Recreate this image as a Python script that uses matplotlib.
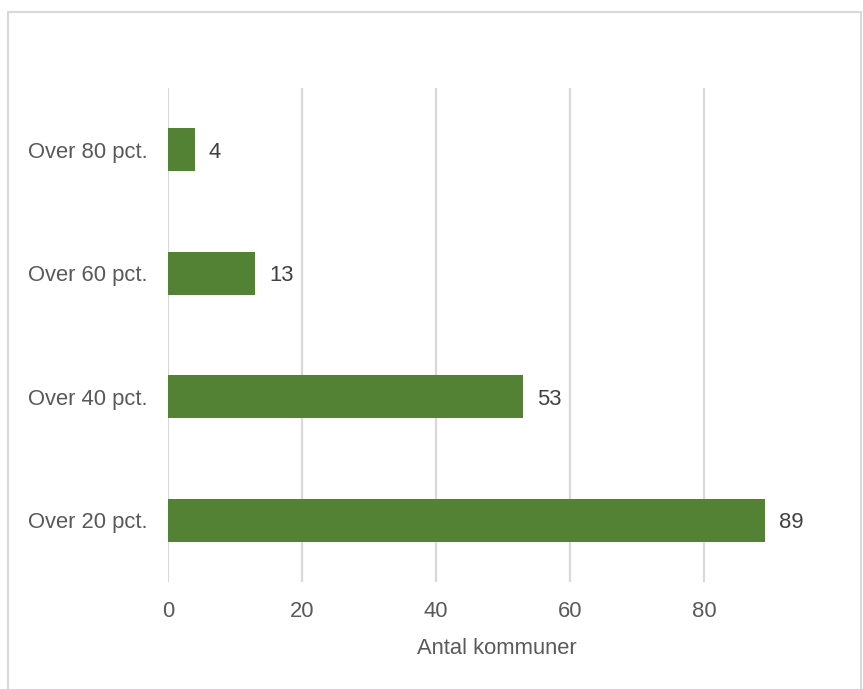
import matplotlib.pyplot as plt
from matplotlib.patches import Rectangle

categories = ["Over 20 pct.", "Over 40 pct.", "Over 60 pct.", "Over 80 pct."]
values = [89, 53, 13, 4]
xticks = [0, 20, 40, 60, 80]

plt.rcParams['font.family'] = ['Liberation Sans', 'DejaVu Sans']
text_color = "#595959"
W, H = 863, 689

fig = plt.figure(figsize=(W / 100, H / 100), dpi=100)
ax = fig.add_axes([168 / W, 1 - 582 / H, (825 - 168) / W, (582 - 88) / H])

bars = ax.barh(range(len(categories)), values, height=0.35, color="#548235", zorder=3)
labels = ax.bar_label(bars, padding=10, fontsize=15.8, color="#404040")
for t in labels:
    t.set_va("center_baseline")

ax.set_yticks(range(len(categories)))
ax.set_yticklabels(categories)
ax.set_ylim(-0.5, len(categories) - 0.5)
ax.set_xlim(0, 98)
ax.set_xticks(xticks)
ax.grid(axis="x", color="#d9d9d9", linewidth=1.6, zorder=0)
ax.tick_params(length=0, labelsize=15.8, labelcolor=text_color)
ax.tick_params(axis="x", pad=14)
ax.tick_params(axis="y", pad=15)
for s in ax.spines.values():
    s.set_visible(False)
ax.set_xlabel("Antal kommuner", fontsize=15.8, color=text_color, labelpad=11)

# chart border
fig.patches.append(Rectangle((8 / W, -0.01), (861 - 8) / W, 1 - 12 / H + 0.01,
                             transform=fig.transFigure, fill=False,
                             edgecolor="#d9d9d9", linewidth=1.5))

fig.savefig("out.png", dpi=100)
